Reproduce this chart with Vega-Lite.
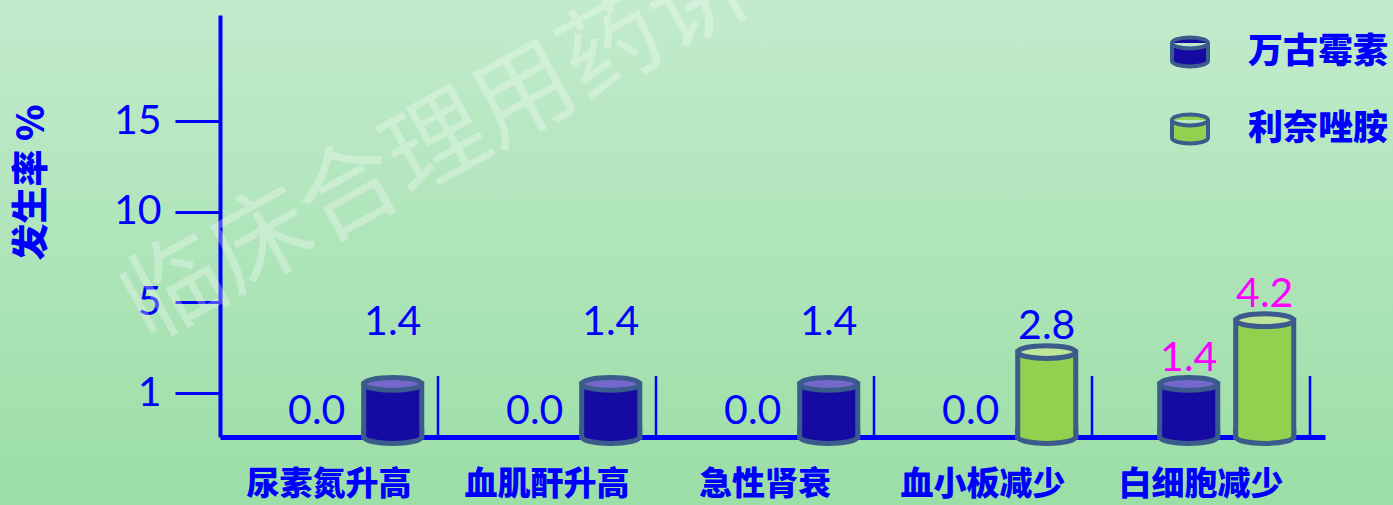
{
  "$schema": "https://vega.github.io/schema/vega-lite/v6.json",
  "width": 1393,
  "height": 505,
  "autosize": "none",
  "padding": 0,
  "background": "#b0e5bb",
  "config": {
    "view": {
      "stroke": null,
      "fill": {"gradient": "linear", "x1": 0, "y1": 0, "x2": 0, "y2": 1,
        "stops": [{"offset": 0, "color": "#c2ebcc"}, {"offset": 1, "color": "#9bdea6"}]}
    }
  },
  "data": {
    "values": [
      {"category": "尿素氮升高", "drug": "利奈唑胺", "order": 1, "value": 0.0},
      {"category": "尿素氮升高", "drug": "万古霉素", "order": 2, "value": 1.4},
      {"category": "血肌酐升高", "drug": "利奈唑胺", "order": 1, "value": 0.0},
      {"category": "血肌酐升高", "drug": "万古霉素", "order": 2, "value": 1.4},
      {"category": "急性肾衰", "drug": "利奈唑胺", "order": 1, "value": 0.0},
      {"category": "急性肾衰", "drug": "万古霉素", "order": 2, "value": 1.4},
      {"category": "血小板减少", "drug": "万古霉素", "order": 1, "value": 0.0},
      {"category": "血小板减少", "drug": "利奈唑胺", "order": 2, "value": 2.8},
      {"category": "白细胞减少", "drug": "万古霉素", "order": 1, "value": 1.4},
      {"category": "白细胞减少", "drug": "利奈唑胺", "order": 2, "value": 4.2}
    ]
  },
  "layer": [
    {
      "transform": [{"filter": "datum.order === 2"}],
      "mark": {"type": "rule", "color": "#0000ff", "strokeWidth": 2.5},
      "encoding": {
        "x": {
          "field": "category", "type": "nominal", "bandPosition": 1,
          "sort": ["尿素氮升高", "血肌酐升高", "急性肾衰", "血小板减少", "白细胞减少"],
          "scale": {"range": [220, 1325], "paddingInner": 0, "paddingOuter": 0.0344, "align": 0},
          "axis": {
            "title": null, "offset": -68, "domainColor": "#0000ff", "domainWidth": 5,
            "ticks": false, "grid": false, "labelAngle": 0, "labelPadding": 31,
            "labelFont": "Noto Sans CJK SC", "labelFontWeight": 900, "labelFontSize": 33,
            "labelColor": "#0000ff"
          }
        },
        "y": {
          "datum": 0, "type": "quantitative",
          "scale": {"domain": [0, 1, 5, 20.86], "range": [437, 393, 302, 15], "zero": false, "nice": false},
          "axis": {
            "values": [1, 5, 10, 15], "offset": -220, "grid": false,
            "domainColor": "#0000ff", "domainWidth": 4,
            "tickColor": "#0000ff", "tickWidth": 3, "tickSize": 45,
            "labelFont": "Lato", "labelFontSize": 41, "labelColor": "#0000ff", "labelPadding": 14,
            "title": "发生率  %", "titleFont": "Noto Sans CJK SC", "titleFontWeight": 900,
            "titleFontSize": 37, "titleColor": "#0000ff", "titleX": -188, "titleY": 182,
            "titleAngle": 270, "titleAlign": "center", "titleBaseline": "middle"
          }
        },
        "y2": {"datum": 1.75}
      }
    },
    {
      "transform": [{"filter": "datum.value > 0"}],
      "mark": {"type": "bar", "width": 58, "stroke": "#3b5b8c", "strokeWidth": 5},
      "encoding": {
        "x": {"field": "category", "type": "nominal", "sort": ["尿素氮升高", "血肌酐升高", "急性肾衰", "血小板减少", "白细胞减少"]},
        "xOffset": {"field": "order", "type": "nominal", "scale": {"paddingInner": 0, "paddingOuter": 0.434, "align": 0.89}},
        "y": {"field": "value", "type": "quantitative"},
        "color": {
          "field": "drug", "type": "nominal",
          "scale": {"domain": ["万古霉素", "利奈唑胺"], "range": ["#150ba3", "#92d050"]},
          "legend": {
            "orient": "none", "legendX": 1170, "legendY": 32, "title": null,
            "symbolType": "M-1,-0.5 A1,0.3 0 0,1 1,-0.5 L1,0.5 A1,0.3 0 0,1 -1,0.5 Z M-1,-0.5 A1,0.3 0 0,0 1,-0.5",
            "symbolSize": 1296, "symbolStrokeColor": "#3b5b8c", "symbolStrokeWidth": 4, "symbolOpacity": 1,
            "labelFont": "Noto Sans CJK SC", "labelFontWeight": 900, "labelFontSize": 35,
            "labelColor": "#0000ff", "labelOffset": 38, "rowPadding": 31
          }
        }
      }
    },
    {
      "transform": [{"filter": "datum.value > 0"}],
      "mark": {"type": "point", "shape": "M-1,-0.35 L-1,0 A1,0.22 0 0,0 1,0 L1,-0.35", "size": 3364, "filled": true, "opacity": 1, "stroke": "#3b5b8c", "strokeWidth": 5},
      "encoding": {
        "x": {"field": "category", "type": "nominal", "sort": ["尿素氮升高", "血肌酐升高", "急性肾衰", "血小板减少", "白细胞减少"]},
        "xOffset": {"field": "order", "type": "nominal"},
        "y": {"datum": 0, "type": "quantitative"},
        "fill": {"condition": {"test": "datum.drug === '万古霉素'", "value": "#150ba3"}, "value": "#92d050"}
      }
    },
    {
      "transform": [{"filter": "datum.value > 0"}],
      "mark": {"type": "point", "shape": "M-1,0 A1,0.22 0 1,1 1,0 A1,0.22 0 1,1 -1,0 Z", "size": 3364, "filled": true, "opacity": 1, "stroke": "#3b5b8c", "strokeWidth": 5},
      "encoding": {
        "x": {"field": "category", "type": "nominal", "sort": ["尿素氮升高", "血肌酐升高", "急性肾衰", "血小板减少", "白细胞减少"]},
        "xOffset": {"field": "order", "type": "nominal"},
        "y": {"field": "value", "type": "quantitative"},
        "fill": {"condition": {"test": "datum.drug === '万古霉素'", "value": "#7468cc"}, "value": "#c1e39a"}
      }
    },
    {
      "transform": [{"filter": "datum.value > 0 && datum.order === 2 && datum.category !== '血小板减少' && datum.category !== '白细胞减少'"}],
      "mark": {"type": "text", "font": "Lato", "fontSize": 41, "baseline": "middle", "align": "center", "dy": -61},
      "encoding": {
        "x": {"field": "category", "type": "nominal", "sort": ["尿素氮升高", "血肌酐升高", "急性肾衰", "血小板减少", "白细胞减少"]},
        "xOffset": {"field": "order", "type": "nominal"},
        "y": {"field": "value", "type": "quantitative"},
        "text": {"field": "value", "type": "quantitative", "format": ".1f"},
        "color": {"value": "#0000ff"}
      }
    },
    {
      "transform": [{"filter": "!(datum.value > 0 && datum.order === 2 && datum.category !== '血小板减少' && datum.category !== '白细胞减少')"}],
      "mark": {"type": "text", "font": "Lato", "fontSize": 41, "baseline": "middle", "align": "center", "dy": -25},
      "encoding": {
        "x": {"field": "category", "type": "nominal", "sort": ["尿素氮升高", "血肌酐升高", "急性肾衰", "血小板减少", "白细胞减少"]},
        "xOffset": {"field": "order", "type": "nominal"},
        "y": {"field": "value", "type": "quantitative"},
        "text": {"field": "value", "type": "quantitative", "format": ".1f"},
        "color": {"condition": {"test": "datum.category === '白细胞减少'", "value": "#ff00ff"}, "value": "#0000ff"}
      }
    },
    {
      "data": {"values": [{"mark": "临床合理用药讲"}]},
      "mark": {"type": "text", "font": "Noto Sans CJK SC", "fontWeight": 400, "fontSize": 100, "angle": -29, "align": "center", "baseline": "middle", "color": "#ffffff", "opacity": 0.3},
      "encoding": {
        "x": {"datum": "尿素氮升高", "type": "nominal", "bandPosition": 1},
        "y": {"datum": 13.6, "type": "quantitative"},
        "text": {"field": "mark"}
      }
    }
  ]
}
